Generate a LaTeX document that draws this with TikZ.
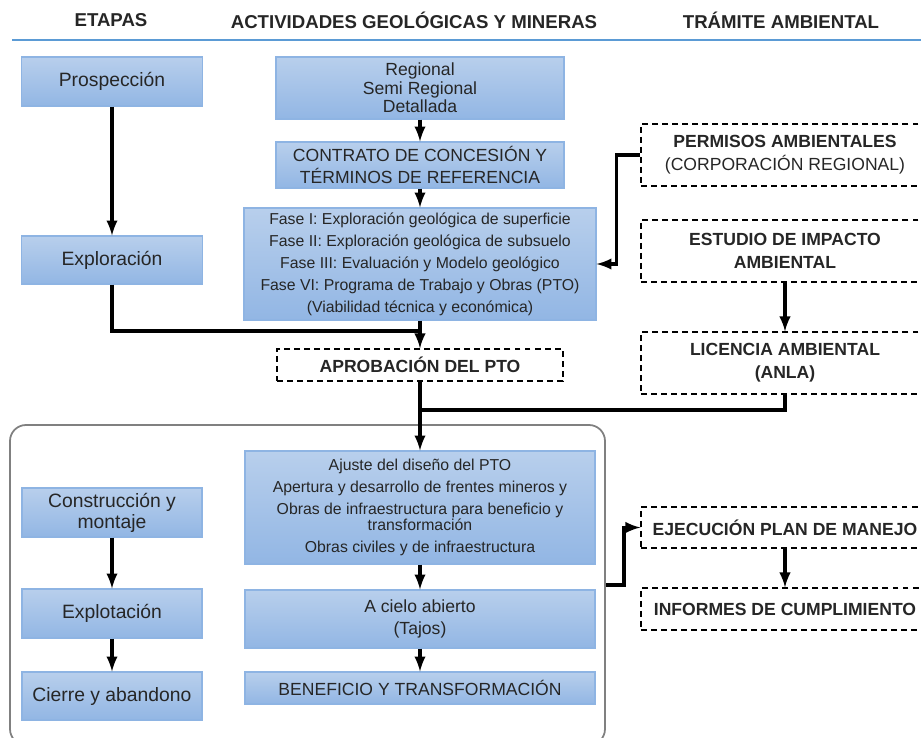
\documentclass[tikz,border=0pt]{standalone}
\usepackage{fontspec}
\setmainfont{Liberation Sans}

\definecolor{boxtop}{RGB}{184,207,236}
\definecolor{boxbottom}{RGB}{146,182,228}
\definecolor{boxline}{RGB}{142,180,227}
\definecolor{headline}{RGB}{91,155,213}
\definecolor{textgray}{RGB}{38,38,38}

\begin{document}
\begin{tikzpicture}[> = latex, x = 0.02cm, y = -0.02cm, font = \fontsize{10}{12}\selectfont, text = textgray,
	etapa/.style 2 args = {draw = boxline, line width = 0.6pt, top color = boxtop, bottom color = boxbottom,
		minimum width = #1*0.02cm, minimum height = #2*0.02cm, inner sep = 0pt, align = center},
	tramite/.style 2 args = {draw = black, dash pattern = on 3.4pt off 2.3pt, line width = 0.7pt,
		minimum width = #1*0.02cm, minimum height = #2*0.02cm, inner sep = 0pt, align = center,
		font = \fontsize{10}{13}\selectfont\bfseries},
	titulo/.style = {font = \fontsize{10.6}{12}\selectfont\bfseries},
	grande/.style = {font = \fontsize{11}{12}\selectfont},
	fases/.style = {font = \fontsize{9}{12.5}\selectfont},
	flecha/.style = {->, line width = 1.9pt},
	linea/.style = {line width = 1.9pt}]

	% Canvas
	
	\useasboundingbox (0, 0) rectangle (921, 738);
	\clip (0, 0) rectangle (921, 738);
	
	% Column titles
	
	\node [titulo] (tetapas) at (111, 20) {ETAPAS};
	\node [titulo] (tactividades) at (414, 20) {ACTIVIDADES GEOLÓGICAS Y MINERAS};
	\node [titulo] (ttramite) at (781, 20) {TRÁMITE AMBIENTAL};
	\draw [headline, line width = 1.7pt] (12, 40) -- (921, 40);
	
	% Operation frame
	
	\node [draw = gray, line width = 1pt, rounded corners = 0.32cm, minimum width = 595*0.02cm,
		minimum height = 320*0.02cm] (operacion) at (307.5, 585) {};
	
	% Stages
	
	\node [etapa = {181}{49}, grande] (prospeccion) at (112, 81.5) {Prospección};
	\node [etapa = {181}{48}, grande] (exploracion) at (112, 260) {Exploración};
	\node [etapa = {180}{49}, grande] (construccion) at (112, 512.5) {Construcción y\\montaje};
	\node [etapa = {180}{49}, grande] (explotacion) at (112, 613.5) {Explotación};
	\node [etapa = {180}{48}, grande] (cierre) at (112, 696) {Cierre y abandono};
	
	% Geological and mining activities
	
	\node [etapa = {288}{62}, font = \fontsize{10}{10.5}\selectfont] (regional) at (420, 88) {Regional\\Semi Regional\\Detallada};
	\node [etapa = {288}{46}] (contrato) at (420, 165) {CONTRATO DE CONCESIÓN Y\\TÉRMINOS DE REFERENCIA};
	\node [etapa = {352}{112}, fases] (fasesexp) at (420, 264) {Fase I: Exploración geológica de superficie\\
		Fase II: Exploración geológica de subsuelo\\Fase III: Evaluación y Modelo geológico\\
		Fase VI: Programa de Trabajo y Obras (PTO)\\(Viabilidad técnica y económica)};
	\node [tramite = {286}{32}] (aprobacion) at (420, 365) {APROBACIÓN DEL PTO};
	\node [etapa = {350}{113}, fases] (ajuste) at (420, 507.5) {Ajuste del diseño del PTO\\
		Apertura y desarrollo de frentes mineros y\\Obras de infraestructura para beneficio y\\[-3.5pt]
		transformación\\Obras civiles y de infraestructura};
	\node [etapa = {350}{58}, font = \fontsize{10}{13}\selectfont] (cielo) at (420, 619) {A cielo abierto\\(Tajos)};
	\node [etapa = {350}{32}] (beneficio) at (420, 688) {BENEFICIO Y TRANSFORMACIÓN};
	
	% Environmental procedure
	
	\node [tramite = {288}{62}] (permisos) at (785, 155) {PERMISOS AMBIENTALES\\\mdseries(CORPORACIÓN REGIONAL)};
	\node [tramite = {288}{62}] (estudio) at (785, 251) {ESTUDIO DE IMPACTO\\AMBIENTAL};
	\node [tramite = {288}{62}] (licencia) at (785, 363) {LICENCIA AMBIENTAL\\(ANLA)};
	\node [tramite = {288}{41}] (ejecucion) at (785, 527.5) {EJECUCIÓN PLAN DE MANEJO};
	\node [tramite = {288}{42}] (informes) at (785, 609) {INFORMES DE CUMPLIMIENTO};
	
	% Connectors
	
	\coordinate (unionexp) at (420, 331);
	\coordinate (unionlic) at (420, 410);
	
	\draw [flecha] (prospeccion) -- (exploracion);
	\draw [linea] (exploracion.south) |- (unionexp);
	\draw [flecha] (regional) -- (contrato);
	\draw [flecha] (contrato) -- (fasesexp);
	\draw [flecha] (fasesexp) -- (aprobacion);
	\draw [flecha] (permisos.west) -- ++(-24, 0) |- (fasesexp.east);
	\draw [flecha] (estudio) -- (licencia);
	\draw [linea] (licencia.south) |- (unionlic);
	\draw [flecha] (aprobacion) -- (ajuste);
	\draw [flecha] (ajuste) -- (cielo);
	\draw [flecha] (cielo) -- (beneficio);
	\draw [flecha] (construccion) -- (explotacion);
	\draw [flecha] (explotacion) -- (cierre);
	\draw [flecha] (operacion.east) -- ++(18, 0) |- (ejecucion.west);
	\draw [flecha] (ejecucion) -- (informes);

\end{tikzpicture}
\end{document}
